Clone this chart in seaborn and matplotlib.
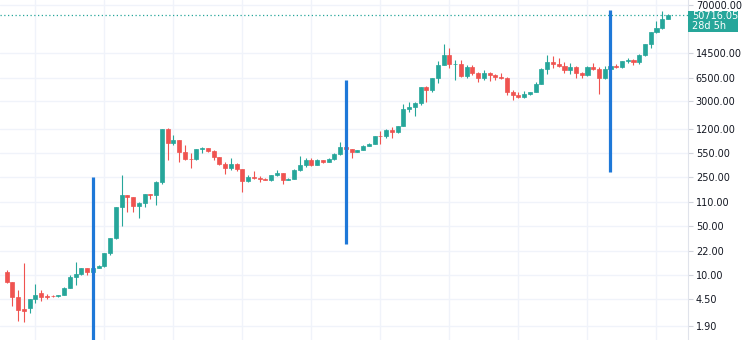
import numpy as np
import pandas as pd
import matplotlib
matplotlib.use("Agg")
import matplotlib.pyplot as plt
import seaborn as sns
from matplotlib.patches import Rectangle
from matplotlib.ticker import FixedLocator, NullLocator, FuncFormatter

# ---------------- data (monthly candles, Aug 2011 .. Mar 2021) ----------------
opens = [11.0, 7.9, 4.8, 3.3, 3.4, 4.5, 5.5, 5.0, 5.0, 4.95, 5.1, 6.6,
         9.35, 10.16, 12.4, 11.2, 12.6, 13.5, 20.4, 33.4, 93, 139, 128, 97,
         106, 141, 140, 211, 1205, 754, 838, 573, 458, 448, 628, 640,
         586, 481, 387, 338, 378, 320, 217, 254, 244, 236, 230, 263,
         284, 230, 236, 314, 377, 430, 368, 437, 416, 448, 531, 673,
         624, 573, 609, 700, 742, 968, 958, 1190, 1080, 1348, 2300, 2480,
         2875, 4735, 4340, 6470, 9950, 13860, 10266, 10330, 6930, 9245, 7500, 6400,
         7730, 7030, 6625, 6370, 4040, 3740, 3457, 3854, 4105, 5320, 8555, 10820,
         10080, 9600, 8300, 9150, 7550, 7200, 9350, 8600, 6420, 8620, 9450, 9140,
         11350, 11650, 10780, 13800, 19700, 28990, 33110, 45240]
highs = [11.7, 8.0, 6.2, 14.6, 4.6, 7.5, 6.2, 5.4, 5.2, 5.2, 6.7, 9.9,
         15.4, 12.6, 12.7, 12.6, 13.9, 20.4, 33.4, 94, 266, 140, 130, 110,
         143, 145, 220, 1210, 1240, 1000, 850, 720, 545, 630, 675, 650,
         600, 490, 415, 460, 390, 320, 265, 300, 260, 245, 270, 317,
         285, 245, 330, 500, 470, 460, 448, 440, 468, 555, 780, 690,
         630, 615, 720, 755, 975, 1150, 1200, 1290, 1350, 2760, 2980, 2930,
         4780, 4980, 6480, 11400, 19666, 17170, 11790, 11700, 9760, 10000, 7760, 8500,
         7760, 7410, 7680, 6600, 4310, 4080, 4200, 4140, 5620, 9080, 13880, 13190,
         12330, 10900, 10500, 9500, 7750, 9580, 10500, 9200, 9460, 10070, 10400, 11430,
         12470, 12070, 14100, 19900, 29300, 41950, 58350, 52600]
lows = [7.8, 3.6, 2.2, 2.1, 2.9, 4.0, 4.3, 4.6, 4.8, 4.9, 5.1, 6.5,
        7.1, 9.9, 9.9, 10.5, 12.5, 13.2, 19.4, 33, 50, 80, 80, 65,
        94, 120, 100, 197, 440, 720, 406, 440, 340, 440, 555, 566,
        440, 365, 275, 315, 300, 152, 212, 235, 215, 226, 218, 255,
        198, 225, 235, 300, 350, 354, 365, 396, 412, 440, 520, 600,
        470, 570, 605, 690, 742, 750, 915, 890, 1060, 1340, 2120, 1830,
        2680, 2970, 4110, 5500, 9900, 9000, 6000, 6600, 6430, 7040, 5750, 6070,
        5880, 6130, 6200, 3650, 3120, 3360, 3390, 3690, 4090, 5300, 7450, 9080,
        9330, 7710, 7300, 6520, 6430, 6850, 8450, 3850, 6160, 8100, 8900, 8970,
        10550, 9880, 10380, 13200, 17600, 28130, 32300, 44950]
closes = [7.9, 4.8, 3.2, 3.1, 4.5, 5.2, 4.9, 4.85, 4.95, 5.1, 6.6, 9.35,
          10.16, 12.4, 11.2, 12.6, 13.5, 20.4, 33.4, 93, 139, 128, 97, 106,
          141, 140, 211, 1205, 754, 838, 573, 458, 448, 628, 640, 586,
          481, 387, 338, 378, 320, 217, 254, 244, 236, 230, 263, 284,
          230, 236, 314, 377, 430, 368, 437, 416, 448, 531, 673, 624,
          573, 609, 700, 742, 963, 958, 1190, 1080, 1348, 2300, 2480, 2875,
          4735, 4340, 6470, 9950, 13860, 10266, 10330, 6930, 9245, 7500, 6400, 7730,
          7030, 6625, 6370, 4040, 3740, 3457, 3854, 4105, 5320, 8555, 10820, 10080,
          9600, 8300, 9150, 7550, 7200, 9350, 8600, 6420, 8620, 9450, 9140, 11350,
          11650, 10780, 13800, 19700, 28990, 33110, 45240, 50716.05]

months = pd.date_range("2011-08-01", periods=len(closes), freq="MS")

halving_months = ["2012-11", "2016-07", "2020-05"]
halving_top = [250, 6050, 60400]
halving_bottom = [1.0, 27.7, 294]

y_ticks = [1.90, 4.50, 10.00, 22.00, 50.00, 110.00, 250.00, 550.00,
           1200.00, 3000.00, 6500.00, 14500.00, 70000.00]
last_price = 50716.05
countdown = "28d 5h"

# ---------------- styling ----------------
UP = "#26a69a"
DOWN = "#ef5350"
HALVING = "#1e78d8"
GRID = "#f0f3fa"

sns.set_style("white")
plt.rcParams["font.family"] = ["DejaVu Sans"]

fig = plt.figure(figsize=(7.48, 3.4), dpi=100)
ax = fig.add_axes([0, 0, 688 / 748, 1])

df = pd.DataFrame({"month": months, "open": opens, "high": highs,
                   "low": lows, "close": closes})
df["x"] = np.arange(len(df))
df["up"] = df["close"] >= df["open"]
cols = np.where(df["up"], UP, DOWN)

ax.set_yscale("log")

# wicks
ax.vlines(df["x"], df["low"], df["high"], colors=cols, lw=0.8, zorder=3)
# bodies
body_lo = np.minimum(df["open"], df["close"])
body_hi = np.maximum(df["open"], df["close"])
ax.bar(df["x"], body_hi - body_lo, bottom=body_lo, width=0.7,
       color=cols, edgecolor=cols, linewidth=0.5, zorder=4)

# halving lines
hx = [df.index[df["month"].dt.strftime("%Y-%m") == m][0] for m in halving_months]
ax.vlines(hx, halving_bottom, halving_top, colors=HALVING, lw=2.3, zorder=6)

# last price dotted line
ax.axhline(last_price, color=UP, lw=0.9, ls=(0, (1, 2)), zorder=2)

# axes ranges
ax.set_xlim(-1.17, 118.48)
ax.set_ylim(1.181, 83860)

# grid
jan_idx = df.index[df["month"].dt.month == 1].tolist()
ax.set_xticks(jan_idx)
ax.tick_params(axis="x", length=0, labelbottom=False)
ax.yaxis.set_major_locator(FixedLocator(y_ticks))
ax.yaxis.set_minor_locator(NullLocator())
ax.yaxis.set_major_formatter(FuncFormatter(lambda v, p: f"{v:.2f}"))
ax.yaxis.tick_right()
ax.tick_params(axis="y", which="major", length=3.6, width=0.8, color="#d1d4dc",
               labelsize=7, labelcolor="#131722", pad=2)
ax.grid(True, color=GRID, lw=1.0, zorder=0)
ax.set_axisbelow(True)

for s in ["top", "left", "bottom"]:
    ax.spines[s].set_visible(False)
ax.spines["right"].set_color("#e0e3eb")
ax.spines["right"].set_linewidth(0.8)

# last price label box
fig.patches.append(Rectangle((688 / 748, 1 - 32 / 340), 50 / 748, 20.5 / 340,
                             transform=fig.transFigure, facecolor=UP,
                             edgecolor="none", zorder=10))
fig.text(692 / 748, 1 - 15.7 / 340, f"{last_price:.2f}", color="white",
         fontsize=7, va="center", ha="left", zorder=11)
fig.text(692 / 748, 1 - 25.7 / 340, countdown, color="white",
         fontsize=7, va="center", ha="left", zorder=11)

fig.savefig("out.png", dpi=100)
